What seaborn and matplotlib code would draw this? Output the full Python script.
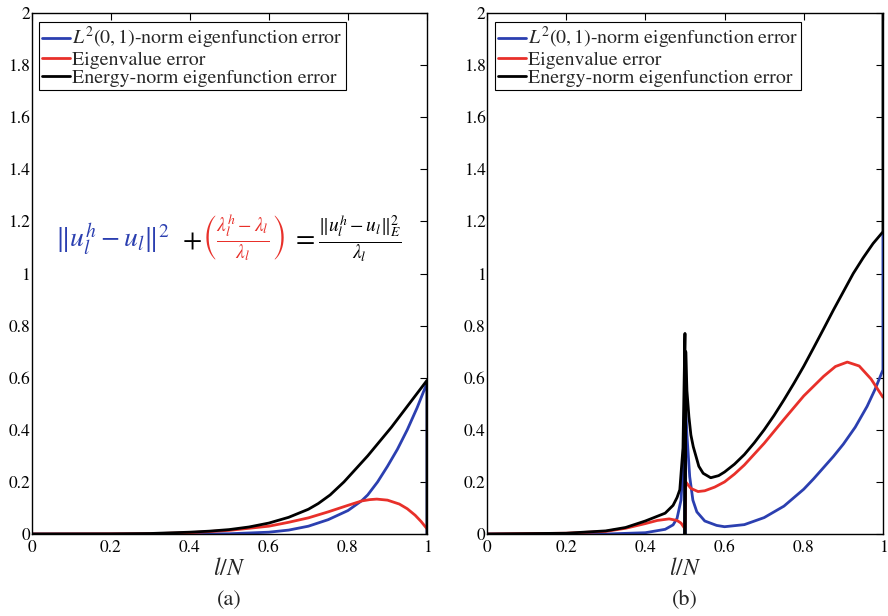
import numpy as np
import pandas as pd
import matplotlib
matplotlib.use('Agg')
import matplotlib.pyplot as plt
import seaborn as sns

# ---- 数据 ----
# (a) 左图
a_l2_x = [0, 0.3, 0.5, 0.6, 0.65, 0.7, 0.75, 0.8, 0.835, 0.85, 0.875, 0.9, 0.925, 0.95,
          0.975, 1.0, 1.0]
a_l2_y = [0, 0.0, 0.001, 0.007, 0.015, 0.03, 0.055, 0.09, 0.128, 0.15, 0.2, 0.26, 0.325, 0.40,
          0.485, 0.58, 0.0]
a_eig_x = [0, 0.3, 0.4, 0.5, 0.6, 0.65, 0.7, 0.75, 0.8, 0.835, 0.855, 0.873, 0.9, 0.93,
           0.95, 0.97, 0.985, 1.0]
a_eig_y = [0, 0.001, 0.005, 0.014, 0.03, 0.045, 0.062, 0.085, 0.11, 0.127, 0.132, 0.134, 0.13,
           0.115, 0.097, 0.072, 0.048, 0.02]
a_en_x = [0, 0.2, 0.3, 0.4, 0.45, 0.5, 0.55, 0.6, 0.65, 0.7, 0.725, 0.755, 0.79, 0.82, 0.85,
          0.88, 0.91, 0.94, 0.97, 1.0, 1.0]
a_en_y = [0, 0.0005, 0.002, 0.007, 0.011, 0.017, 0.027, 0.042, 0.064, 0.095, 0.117, 0.15, 0.2,
          0.25, 0.30, 0.355, 0.41, 0.47, 0.53, 0.59, 0.0]

# (b) 右图
b_l2_x = [0, 0.3, 0.4, 0.45, 0.47, 0.48, 0.49, 0.495, 0.5, 0.5, 0.5, 0.505, 0.512, 0.52,
          0.53, 0.55, 0.58, 0.6, 0.65, 0.7, 0.75, 0.8, 0.825, 0.85, 0.875, 0.9, 0.93, 0.96,
          0.98, 1.0, 1.0]
b_l2_y = [0, 0.0, 0.005, 0.018, 0.035, 0.06, 0.13, 0.26, 0.57, 0.0, 0.55, 0.38, 0.22, 0.13,
          0.085, 0.05, 0.033, 0.028, 0.036, 0.063, 0.107, 0.172, 0.212, 0.255, 0.298, 0.345,
          0.41, 0.49, 0.555, 0.63, 1.16]
b_eig_x = [0, 0.2, 0.3, 0.35, 0.4, 0.43, 0.46, 0.48, 0.49, 0.5, 0.502, 0.515, 0.533, 0.55,
           0.575, 0.6, 0.625, 0.65, 0.7, 0.75, 0.8, 0.85, 0.88, 0.91, 0.94, 0.97, 1.0]
b_eig_y = [0, 0.003, 0.01, 0.022, 0.04, 0.052, 0.058, 0.052, 0.042, 0.02, 0.2, 0.175, 0.163,
           0.166, 0.18, 0.2, 0.23, 0.265, 0.348, 0.44, 0.53, 0.605, 0.643, 0.66, 0.645,
           0.595, 0.525]
b_en_x = [0, 0.2, 0.3, 0.35, 0.4, 0.45, 0.47, 0.48, 0.487, 0.495, 0.5, 0.5, 0.5, 0.502,
          0.505, 0.51, 0.515, 0.521, 0.535, 0.546, 0.565, 0.585, 0.6, 0.625, 0.65, 0.675, 0.7,
          0.725, 0.75, 0.775, 0.8, 0.825, 0.85, 0.875, 0.9, 0.925, 0.95, 0.975, 1.0, 1.0]
b_en_y = [0, 0.003, 0.012, 0.025, 0.05, 0.08, 0.11, 0.14, 0.17, 0.33, 0.77, 0.0, 0.0, 0.7,
          0.55, 0.45, 0.38, 0.335, 0.26, 0.233, 0.216, 0.224, 0.238, 0.268, 0.305, 0.35,
          0.40, 0.455, 0.515, 0.578, 0.644, 0.715, 0.787, 0.86, 0.93, 1.0, 1.06, 1.115, 1.16,
          2.1]

labels = [r'$L^2(0,1)$-norm eigenfunction error', 'Eigenvalue error',
          'Energy-norm eigenfunction error']
colors = ['#2b3fb0', '#e8302a', '#000000']
yticks = [0, 0.2, 0.4, 0.6, 0.8, 1, 1.2, 1.4, 1.6, 1.8, 2]
ytick_labels = ['0', '0.2', '0.4', '0.6', '0.8', '1', '1.2', '1.4', '1.6', '1.8', '2']
xticks = [0, 0.2, 0.4, 0.6, 0.8, 1]
xtick_labels = ['0', '0.2', '0.4', '0.6', '0.8', '1']

sns.set_theme(style='white')
plt.rcParams['font.family'] = ['STIXGeneral', 'DejaVu Serif']
plt.rcParams['mathtext.fontset'] = 'stix'

fig = plt.figure(figsize=(8.88, 6.16), dpi=100)
ax1 = fig.add_axes([0.0355, 0.1331, 0.4454, 0.8458])
ax2 = fig.add_axes([0.5484, 0.1331, 0.4459, 0.8458])

panels = [
    (ax1, [(a_l2_x, a_l2_y), (a_eig_x, a_eig_y), (a_en_x, a_en_y)]),
    (ax2, [(b_l2_x, b_l2_y), (b_eig_x, b_eig_y), (b_en_x, b_en_y)]),
]

for ax, series in panels:
    for (x, y), lab, c in zip(series, labels, colors):
        df = pd.DataFrame({'x': x, 'y': y})
        sns.lineplot(data=df, x='x', y='y', ax=ax, sort=False, estimator=None,
                     color=c, lw=2.0, label=lab)
    ax.set_xlim(0, 1)
    ax.set_ylim(0, 2)
    ax.set_xticks(xticks)
    ax.set_xticklabels(xtick_labels)
    ax.set_yticks(yticks)
    ax.set_yticklabels(ytick_labels)
    ax.tick_params(direction='in', top=True, right=True, length=5, width=0.8,
                   labelsize=12.5, colors='black', pad=4)
    ax.tick_params(axis='y', pad=1)
    for s in ax.spines.values():
        s.set_color('black')
        s.set_linewidth(1.0)
    ax.set_xlabel(r'$l/N$', fontsize=17, labelpad=2)
    ax.set_ylabel('')
    leg = ax.legend(loc='upper left', bbox_to_anchor=(0.02, 0.982), fontsize=14.3,
                    frameon=True, fancybox=False, edgecolor='black', framealpha=1,
                    borderpad=0.15, handlelength=1.4, handletextpad=0.1,
                    labelspacing=0.0, borderaxespad=0)
    leg.get_frame().set_linewidth(0.8)

# 公式标注
fs = 20
ax1.text(0.06, 1.10, r'$\|u_l^h - u_l\|^2$', color=colors[0], fontsize=fs, va='baseline')
ax1.text(0.405, 1.10, r'$+$', color='black', fontsize=fs, va='baseline', ha='center')
ax1.text(0.43, 1.10, r'$\left(\frac{\lambda_l^h - \lambda_l}{\lambda_l}\right)$',
         color=colors[1], fontsize=fs, va='baseline')
ax1.text(0.655, 1.10, r'$= \frac{\|u_l^h - u_l\|_E^2}{\lambda_l}$', color='black',
         fontsize=fs, va='baseline')

fig.text(0.2582, 0.026, '(a)', fontsize=16, ha='center', va='center')
fig.text(0.7714, 0.026, '(b)', fontsize=16, ha='center', va='center')

fig.savefig('out.png', dpi=100)
